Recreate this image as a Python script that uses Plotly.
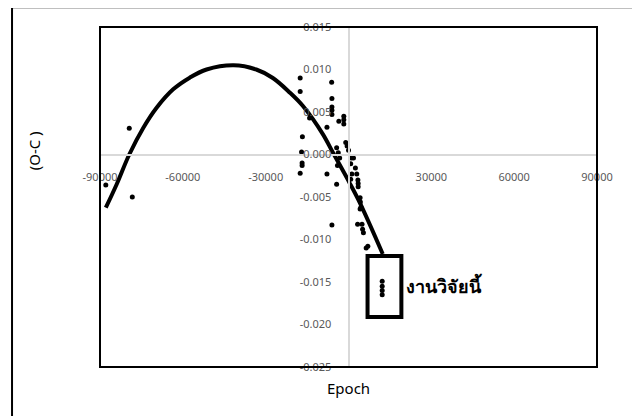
import plotly.graph_objects as go

# Observed O-C data
epoch = [-87900, -79400, -78300,
         -17500, -17500, -14100, -16700, -17000, -16800, -16800, -17500,
         -6100, -6000, -6000, -6000, -6000, -7800, -7800,
         -3500, -1700, -1700, -1700, -4300, -3700, -3200, -4000, -4300,
         -1000, -500, 0, 1000, 1800, 800, 1200, 2500, 3000, 3400, 800,
         3500, 3500, 4200, 4300, 4500, 4200, -6000, 3300, 4900, 5100, 5400,
         6400, 7000]
oc = [-0.0036, 0.0031, -0.0050,
      0.0090, 0.0074, 0.0043, 0.0021, 0.0003, -0.0010, -0.0013, -0.0022,
      0.0085, 0.0066, 0.0056, 0.0052, 0.0047, 0.0032, -0.0023,
      0.0039, 0.0045, 0.0041, 0.0036, 0.0008, 0.0002, -0.0004, -0.0013, -0.0035,
      0.0014, 0.0010, 0.0005, -0.0004, -0.0004, -0.0011, -0.0023, -0.0016, -0.0023, -0.0030, -0.0029,
      -0.0034, -0.0038, -0.0051, -0.0056, -0.0062, -0.0064, -0.0083, -0.0082, -0.0082, -0.0088, -0.0092,
      -0.0110, -0.0108]

# This work
epoch_new = [12200, 12200, 12200, 12200]
oc_new = [-0.0149, -0.0155, -0.0160, -0.0165]

# Fitted curve
fit_x = [-87900, -83950, -79400, -74300, -69500, -63500, -57500, -51400, -41600,
         -33400, -27400, -21300, -16500, -9300, -5600, 0, 4000, 12400]
fit_y = [-0.00626, -0.0035, 0.0000, 0.00315, 0.0055, 0.00767, 0.00904, 0.0100, 0.0105,
         0.0100, 0.0090, 0.0073, 0.0057, 0.0024, 0.0002, -0.0031, -0.0056, -0.0117]

x_ticks = [-90000, -60000, -30000, 0, 30000, 60000, 90000]
x_tick_text = ["-90000", "-60000", "-30000", "", "30000", "60000", "90000"]
y_ticks = [-0.025, -0.020, -0.015, -0.010, -0.005, 0.000, 0.005, 0.010, 0.015]
y_tick_text = ["-0.025", "-0.020", "-0.015", "-0.010", "-0.005", "0.000", "0.005", "0.010", "0.015"]

label_text = "งานวิจัยนี้"
x_title = "Epoch"
y_title = "(O-C )"

FONT = "Noto Sans, Open Sans, DejaVu Sans, sans-serif"

fig = go.Figure()
fig.add_trace(go.Scatter(x=fit_x, y=fit_y, mode="lines", line=dict(color="black", width=4, shape="spline"),
                         hoverinfo="skip", showlegend=False))
fig.add_trace(go.Scatter(x=epoch, y=oc, mode="markers", marker=dict(color="black", size=5),
                         showlegend=False))
fig.add_trace(go.Scatter(x=epoch_new, y=oc_new, mode="markers", marker=dict(color="black", size=5),
                         showlegend=False))

# box around this work
fig.add_shape(type="rect", xref="x", yref="y", x0=6900, x1=19150, y0=-0.01912, y1=-0.01194,
              line=dict(color="black", width=4), fillcolor="white", layer="below")
fig.add_annotation(x=20000, y=-0.0154, xref="x", yref="y", text="<b>" + label_text + "</b>",
                   showarrow=False, xanchor="left", yanchor="middle",
                   font=dict(size=18, color="black", family=FONT))

# plot frame
fig.add_shape(type="rect", xref="paper", yref="paper", x0=0, x1=1, y0=0, y1=1,
              line=dict(color="black", width=2), layer="above")
# outer frame (top and left visible)
fig.add_shape(type="line", xref="paper", yref="paper", x0=-0.177, x1=1.2, y0=1.058, y1=1.058,
              line=dict(color="black", width=2))
fig.add_shape(type="line", xref="paper", yref="paper", x0=-0.177, x1=-0.177, y0=-0.2, y1=1.058,
              line=dict(color="black", width=2))

fig.add_annotation(x=0.5, y=-0.062, xref="paper", yref="paper", text=x_title, showarrow=False,
                   xanchor="center", yanchor="middle", font=dict(size=15, color="black", family=FONT))
fig.add_annotation(x=-0.131, y=0.637, xref="paper", yref="paper", text=y_title, showarrow=False,
                   xanchor="center", yanchor="middle",
                   textangle=-90, font=dict(size=15, color="black", family=FONT))

fig.update_layout(
    width=640, height=416,
    margin=dict(l=92, r=51, t=19, b=57, autoexpand=False),
    paper_bgcolor="white", plot_bgcolor="white",
    font=dict(family=FONT, size=11, color="#595959"),
    xaxis=dict(range=[-90000, 90000], tickvals=x_ticks, ticktext=x_tick_text,
               showgrid=False, zeroline=False, showline=True, linecolor="#d9d9d9", linewidth=2,
               anchor="free", position=0.625, ticks="", ticklabelstandoff=12, automargin=False,
               tickfont=dict(size=11, color="#595959")),
    yaxis=dict(range=[-0.025, 0.015], tickvals=y_ticks, ticktext=y_tick_text,
               showgrid=False, zeroline=False, showline=True, linecolor="#d9d9d9", linewidth=2,
               anchor="free", position=0.5, ticks="", ticklabelstandoff=14, automargin=False,
               tickfont=dict(size=11, color="#595959")),
)

fig.write_html("out.html")
